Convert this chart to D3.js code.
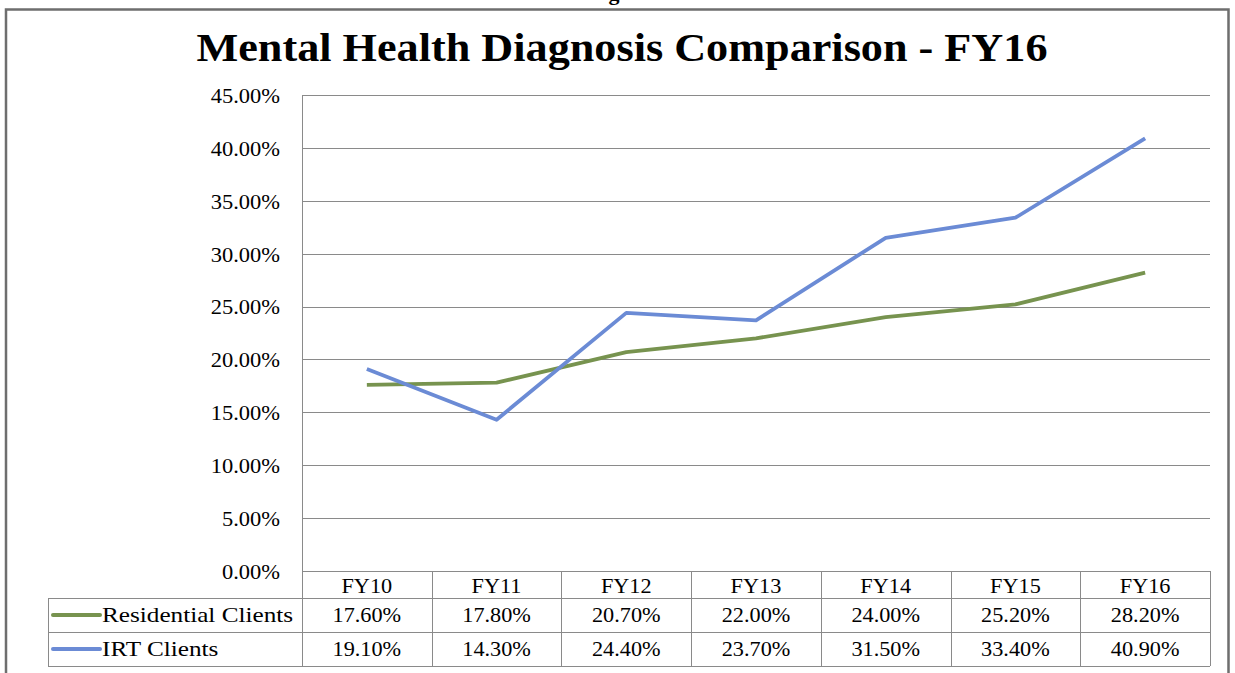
<!DOCTYPE html>
<html>
<head>
<meta charset="utf-8">
<script src="https://cdn.jsdelivr.net/npm/d3@7"></script>
<style>
  body { margin: 0; background: #fff; }
  svg { display: block; }
  text { font-family: "Liberation Serif", "Times New Roman", serif; fill: #000; }
</style>
</head>
<body>
<svg id="chart" width="1235" height="673"></svg>
<script>
// ---- data ----
const categories = ["FY10", "FY11", "FY12", "FY13", "FY14", "FY15", "FY16"];
const residentialValues = [17.6, 17.8, 20.7, 22.0, 24.0, 25.2, 28.2];
const irtValues = [19.1, 14.3, 24.4, 23.7, 31.5, 33.4, 40.9];
const seriesNames = ["Residential Clients", "IRT Clients"];
const yTickValues = [0, 5, 10, 15, 20, 25, 30, 35, 40, 45];
const chartTitle = "Mental Health Diagnosis Comparison - FY16";

const series = [
  { name: seriesNames[0], values: residentialValues, color: "#77934f" },
  { name: seriesNames[1], values: irtValues, color: "#6b8bd5" }
];

// ---- layout ----
const W = 1235, H = 673;
const plot = { left: 302, right: 1210, top: 95, bottom: 571 };
const headerH = 27, rowH = 34;
const tableLeft = 48;
const gridColor = "#8a8a8a";

const svg = d3.select("#chart");

// widen serif glyphs slightly to get book-style proportions
function stretch(sel, factor) {
  sel.each(function () {
    const w = this.getComputedTextLength();
    d3.select(this).attr("textLength", w * factor).attr("lengthAdjust", "spacingAndGlyphs");
  });
}

// clipped heading fragment above the frame
svg.append("text")
  .attr("x", 614).attr("y", 0)
  .attr("text-anchor", "middle")
  .style("font-size", "22px").style("font-weight", "bold")
  .text("g");

// outer frame
svg.append("path")
  .attr("d", `M6,${H} V9.5 H1228.5 V${H}`)
  .attr("fill", "none").attr("stroke", "#6e6e6e").attr("stroke-width", 2.5);

// title
svg.append("text")
  .attr("x", 622).attr("y", 61)
  .attr("text-anchor", "middle")
  .attr("textLength", 851).attr("lengthAdjust", "spacingAndGlyphs")
  .style("font-size", "41px").style("font-weight", "bold")
  .text(chartTitle);

// scales
const x = d3.scaleBand().domain(categories).range([plot.left, plot.right]);
const y = d3.scaleLinear().domain([0, 45]).range([plot.bottom, plot.top]);

// horizontal gridlines
svg.append("g").selectAll("line").data(yTickValues).join("line")
  .attr("x1", plot.left).attr("x2", plot.right)
  .attr("y1", d => Math.round(y(d)) + 0.5).attr("y2", d => Math.round(y(d)) + 0.5)
  .attr("stroke", gridColor).attr("stroke-width", 1);

// y axis labels
const yAxis = svg.append("g")
  .attr("transform", `translate(${plot.left},0)`)
  .call(d3.axisLeft(y).tickValues(yTickValues).tickSize(0).tickPadding(22)
    .tickFormat(d => d3.format(".2f")(d) + "%"));
yAxis.select(".domain").remove();
yAxis.attr("font-family", null);
yAxis.selectAll("text")
  .attr("dy", "0.35em")
  .style("font-family", "'Liberation Serif', serif")
  .style("font-size", "21px");
stretch(yAxis.selectAll("text"), 1.07);

// left axis line
svg.append("line")
  .attr("x1", plot.left + 0.5).attr("x2", plot.left + 0.5)
  .attr("y1", plot.top).attr("y2", plot.bottom + headerH + rowH * 2)
  .attr("stroke", gridColor);

// series lines
const line = d3.line()
  .x((d, i) => x(categories[i]) + x.bandwidth() / 2)
  .y(d => y(d));

svg.append("g").selectAll("path").data(series).join("path")
  .attr("d", d => line(d.values))
  .attr("fill", "none")
  .attr("stroke", d => d.color)
  .attr("stroke-width", 3.8)
  .attr("stroke-linejoin", "round");

// ---- data table ----
const table = svg.append("g");
const tableBottom = plot.bottom + headerH + rowH * 2;

// column separators
table.selectAll("line.col").data(d3.range(categories.length + 1)).join("line")
  .attr("class", "col")
  .attr("x1", i => Math.round(plot.left + i * x.bandwidth()) + 0.5)
  .attr("x2", i => Math.round(plot.left + i * x.bandwidth()) + 0.5)
  .attr("y1", plot.bottom).attr("y2", tableBottom)
  .attr("stroke", gridColor);

// row separators
table.selectAll("line.row").data([1, 2, 3]).join("line")
  .attr("class", "row")
  .attr("x1", tableLeft).attr("x2", plot.right)
  .attr("y1", r => plot.bottom + headerH + rowH * (r - 1) + 0.5)
  .attr("y2", r => plot.bottom + headerH + rowH * (r - 1) + 0.5)
  .attr("stroke", gridColor);

table.append("line")
  .attr("x1", tableLeft + 0.5).attr("x2", tableLeft + 0.5)
  .attr("y1", plot.bottom + headerH).attr("y2", tableBottom)
  .attr("stroke", gridColor);

// category headers
const headers = table.selectAll("text.hdr").data(categories).join("text")
  .attr("class", "hdr")
  .attr("x", d => x(d) + x.bandwidth() / 2)
  .attr("y", plot.bottom + headerH / 2 + 1)
  .attr("dy", "0.35em")
  .attr("text-anchor", "middle")
  .style("font-size", "21px")
  .text(d => d);
stretch(headers, 1.06);

// rows
series.forEach((s, r) => {
  const cy = plot.bottom + headerH + rowH * r + rowH / 2;
  table.append("line")
    .attr("x1", 53).attr("x2", 100)
    .attr("y1", cy).attr("y2", cy)
    .attr("stroke", s.color).attr("stroke-width", 4).attr("stroke-linecap", "round");
  const lbl = table.append("text")
    .attr("x", 102).attr("y", cy).attr("dy", "0.35em")
    .style("font-size", "21px")
    .text(s.name);
  stretch(lbl, 1.2);
  const vals = table.selectAll(null).data(s.values).join("text")
    .attr("x", (d, i) => x(categories[i]) + x.bandwidth() / 2)
    .attr("y", cy).attr("dy", "0.35em")
    .attr("text-anchor", "middle")
    .style("font-size", "21px")
    .text(d => d3.format(".2f")(d) + "%");
  stretch(vals, 1.06);
});
</script>
</body>
</html>
